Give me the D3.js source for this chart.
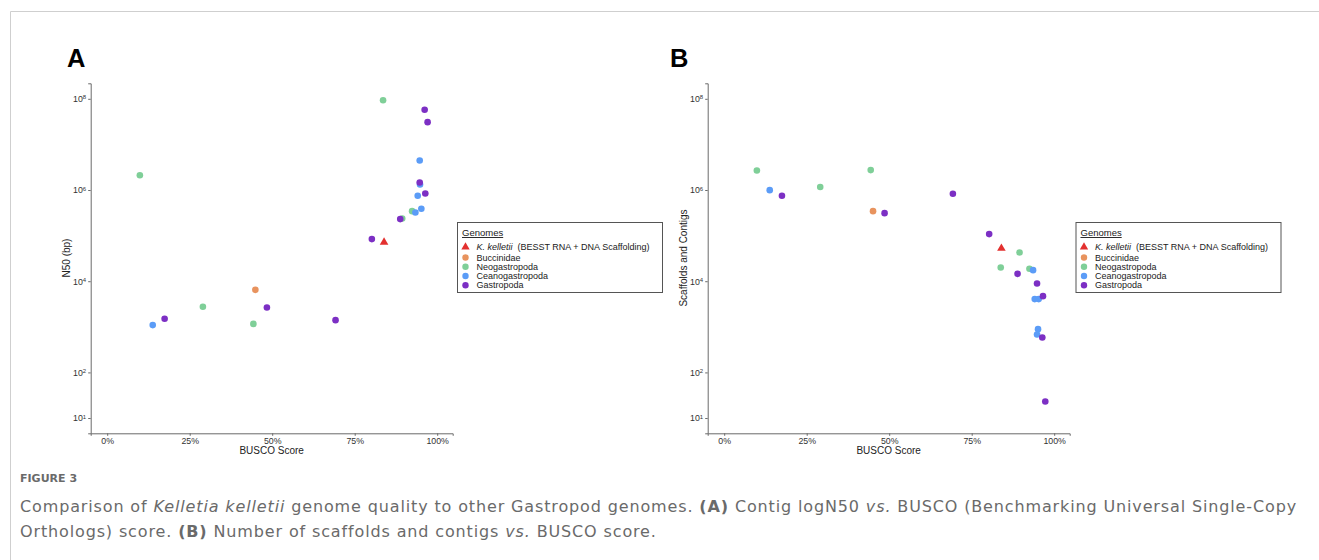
<!DOCTYPE html>
<html>
<head>
<meta charset="utf-8">
<title>Genome quality vs BUSCO</title>
<script src="https://d3js.org/d3.v7.min.js"></script>
<style>
  body { margin: 0; background: #fff; }
  svg text { font-family: "Liberation Sans", Arial, sans-serif; }
  svg text.caption { font-family: "DejaVu Sans", "Open Sans", sans-serif; }
</style>
</head>
<body>
<div id="container"></div>
<script>
//----------------------------DATA------------------------------//
const groups = ["K. kelletii", "Buccinidae", "Neogastropoda", "Ceanogastropoda", "Gastropoda"];
const groupColors = ["#e3302f", "#e8935e", "#7fcf98", "#5b9cf7", "#7c2fc4"];

// panel A : contig N50 (bp) against BUSCO score
const n50Group = ["Neogastropoda", "Ceanogastropoda", "Gastropoda", "Neogastropoda", "Neogastropoda",
  "Buccinidae", "Gastropoda", "Gastropoda", "Gastropoda", "Neogastropoda", "Neogastropoda",
  "Gastropoda", "Neogastropoda", "Ceanogastropoda", "Ceanogastropoda", "Ceanogastropoda",
  "Ceanogastropoda", "Gastropoda", "Ceanogastropoda", "Gastropoda", "Gastropoda", "Gastropoda",
  "K. kelletii"];
const n50Busco = [0.099, 0.138, 0.174, 0.290, 0.443, 0.449, 0.484, 0.692, 0.802, 0.836, 0.894,
  0.888, 0.924, 0.934, 0.941, 0.947, 0.948, 0.947, 0.952, 0.962, 0.964, 0.971, 0.839];
const n50Values = [2.1e6, 1090, 1500, 2750, 1160, 6470, 2650, 1400, 83800, 9.3e7, 238000,
  230000, 344000, 321000, 746000, 4.45e6, 1.32e6, 1.46e6, 387000, 5.74e7, 840000, 3.08e7, 71600];

// panel B : number of scaffolds and contigs against BUSCO score
const scafGroup = ["Neogastropoda", "Ceanogastropoda", "Gastropoda", "Neogastropoda", "Neogastropoda",
  "Buccinidae", "Gastropoda", "Gastropoda", "Gastropoda", "Neogastropoda", "Neogastropoda",
  "Gastropoda", "Neogastropoda", "Ceanogastropoda", "Gastropoda", "Ceanogastropoda",
  "Ceanogastropoda", "Gastropoda", "Ceanogastropoda", "Ceanogastropoda", "Gastropoda", "Gastropoda",
  "K. kelletii"];
const scafBusco = [0.099, 0.138, 0.175, 0.291, 0.444, 0.451, 0.486, 0.693, 0.803, 0.838, 0.895,
  0.889, 0.925, 0.936, 0.948, 0.941, 0.953, 0.966, 0.951, 0.948, 0.964, 0.973, 0.840];
const scafValues = [2.68e6, 993000, 746000, 1.16e6, 2.73e6, 344000, 311000, 826000, 108000, 20000, 42700,
  14500, 18700, 17500, 8910, 4050, 4050, 4710, 889, 679, 583, 23, 52500];

const xTicks = [0, 0.25, 0.5, 0.75, 1];
const yTickExp = [1, 2, 4, 6, 8];

//----------------------------SVG-------------------------------//
const width = 1319, height = 560;
const svg = d3.select("#container").append("svg")
  .attr("width", width).attr("height", height);

// frame of the figure
svg.append("path")
  .attr("d", "M10.5,560V11.5H1319")
  .attr("fill", "none").attr("stroke", "#cfcfcf").attr("stroke-width", 1);

const color = d3.scaleOrdinal().domain(groups).range(groupColors);

//---------------------------PANELS-----------------------------//
function drawPanel(ox, letter, letterX, yTitle, busco, values, grp) {
  const g = svg.append("g").attr("transform", "translate(" + ox + ",0)");

  const x = d3.scaleLinear().domain([-0.05, 1.047]).range([90.7, 452.7]);
  const y = d3.scaleLog().domain([Math.pow(10, 0.665), Math.pow(10, 8.34)]).range([433.3, 83.3]);

  g.append("text").attr("x", letterX).attr("y", 67)
    .attr("font-size", 25.5).attr("font-weight", "bold").attr("fill", "#000")
    .text(letter);

  // axes
  const xAxis = g.append("g").attr("transform", "translate(0,433.3)")
    .call(d3.axisBottom(x).tickValues(xTicks).tickSize(2.5).tickPadding(1.5)
      .tickFormat(d3.format(".0%")));
  const yAxis = g.append("g").attr("transform", "translate(90.7,0)")
    .call(d3.axisLeft(y).tickValues(yTickExp.map(e => Math.pow(10, e))).tickSize(2.5).tickPadding(1.5)
      .tickFormat(""));
  [xAxis, yAxis].forEach(a => {
    a.select(".domain").attr("stroke", "#6a6a6a");
    a.selectAll(".tick line").attr("stroke", "#6a6a6a");
    a.selectAll("text").attr("font-size", 8.8).attr("fill", "#333");
  });

  // superscript tick labels 10^n
  yAxis.selectAll(".tick").each(function(d) {
    const t = d3.select(this).append("text")
      .attr("x", -4.5).attr("dy", "0.32em")
      .attr("text-anchor", "end").attr("fill", "#333").attr("font-size", 8.8);
    t.append("tspan").text("10");
    t.append("tspan").attr("dy", "-0.45em").attr("font-size", 6)
      .text(Math.round(Math.log10(d)));
  });

  // axis titles
  g.append("text").attr("x", 271.7).attr("y", 454)
    .attr("text-anchor", "middle").attr("font-size", 10).attr("fill", "#222")
    .text("BUSCO Score");
  g.append("text")
    .attr("transform", "translate(70,258) rotate(-90)")
    .attr("text-anchor", "middle").attr("font-size", 10).attr("fill", "#222")
    .text(yTitle);

  // points
  const pts = busco.map((b, i) => ({ b: b, v: values[i], g: grp[i] }));
  g.selectAll("circle.pt")
    .data(pts.filter(d => d.g !== "K. kelletii"))
    .enter().append("circle")
    .attr("class", "pt")
    .attr("cx", d => x(d.b)).attr("cy", d => y(d.v))
    .attr("r", 3.3)
    .attr("fill", d => color(d.g));
  g.selectAll("path.tri")
    .data(pts.filter(d => d.g === "K. kelletii"))
    .enter().append("path")
    .attr("class", "tri")
    .attr("transform", d => "translate(" + x(d.b) + "," + y(d.v) + ")")
    .attr("d", d3.symbol(d3.symbolTriangle, 32))
    .attr("fill", d => color(d.g));

  // legend
  const lg = g.append("g").attr("transform", "translate(" + (letter === "A" ? 457.5 : 459) + ",222.5)");
  lg.append("rect").attr("width", 205).attr("height", 70)
    .attr("fill", "#fff").attr("stroke", "#555").attr("stroke-width", 1);
  lg.append("text").attr("x", 4.5).attr("y", 13.5)
    .attr("font-size", 9.5).attr("fill", "#222")
    .attr("text-decoration", "underline").text("Genomes");
  const rowY = [24.5, 35, 44.2, 53.5, 62.8];
  groups.forEach((name, i) => {
    const row = lg.append("g").attr("transform", "translate(8," + rowY[i] + ")");
    if (i === 0) {
      row.append("path").attr("d", d3.symbol(d3.symbolTriangle, 30)).attr("fill", color(name));
    } else {
      row.append("circle").attr("r", 3.2).attr("fill", color(name));
    }
    const t = row.append("text").attr("x", 11).attr("dy", "0.35em")
      .attr("font-size", 9).attr("fill", "#222");
    if (i === 0) {
      t.append("tspan").attr("font-style", "italic").text(name);
      t.append("tspan").text("\u00a0\u00a0(BESST RNA + DNA Scaffolding)");
    } else {
      t.text(name);
    }
  });
}

drawPanel(0, "A", 67, "N50 (bp)", n50Busco, n50Values, n50Group);
drawPanel(617, "B", 53, "Scaffolds and Contigs", scafBusco, scafValues, scafGroup);

//---------------------------CAPTION----------------------------//
svg.append("text").attr("class", "caption").attr("x", 20).attr("y", 482)
  .attr("font-size", 11).attr("font-weight", 600)
  .attr("fill", "#6a6a6a").text("FIGURE 3");

const cap1 = svg.append("text").attr("class", "caption").attr("x", 20).attr("y", 512)
  .attr("font-size", 15).attr("fill", "#6a6a6a");
cap1.append("tspan").text("Comparison of ");
cap1.append("tspan").attr("font-style", "italic").text("Kelletia kelletii");
cap1.append("tspan").text(" genome quality to other Gastropod genomes. ");
cap1.append("tspan").attr("font-weight", "bold").text("(A)");
cap1.append("tspan").text(" Contig logN50 ");
cap1.append("tspan").attr("font-style", "italic").text("vs.");
cap1.append("tspan").text(" BUSCO (Benchmarking Universal Single-Copy");

const cap2 = svg.append("text").attr("class", "caption").attr("x", 20).attr("y", 537)
  .attr("font-size", 15).attr("fill", "#6a6a6a");
cap2.append("tspan").text("Orthologs) score. ");
cap2.append("tspan").attr("font-weight", "bold").text("(B)");
cap2.append("tspan").text(" Number of scaffolds and contigs ");
cap2.append("tspan").attr("font-style", "italic").text("vs.");
cap2.append("tspan").text(" BUSCO score.");

// size the caption so the first line spans the width seen in the figure
const w1 = cap1.node().getComputedTextLength();
let capSize = 15 * 1277 / w1;
let capLs = 0;
if (capSize > 16) {
  capSize = 16;
  capLs = (1277 - w1 * 16 / 15) / cap1.text().length;
}
[cap1, cap2].forEach(c => c.attr("font-size", capSize).attr("letter-spacing", capLs));
</script>
</body>
</html>
